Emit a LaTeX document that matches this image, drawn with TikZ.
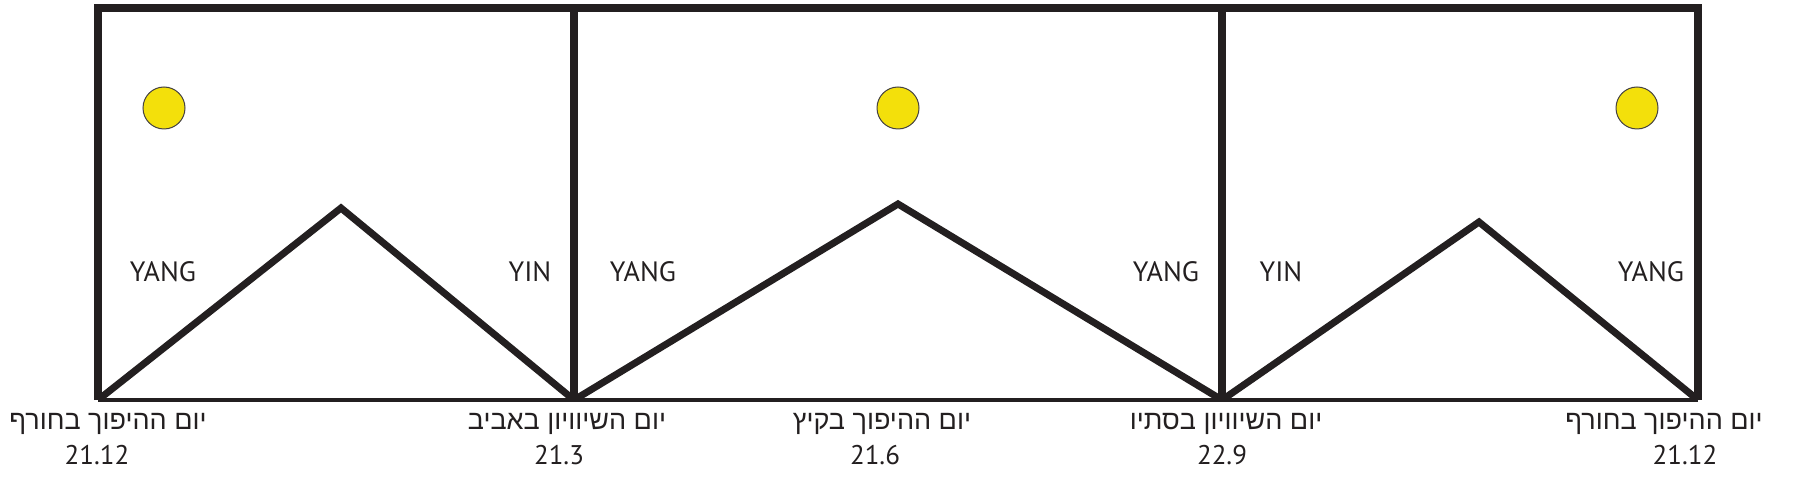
\documentclass[tikz,border=0pt]{standalone}
\usepackage{fontspec}
\setmainfont{PT Sans}
\newfontfamily\hebfont[Script=Hebrew]{Liberation Sans}
\TeXXeTstate=1
\definecolor{inkcol}{HTML}{231F20}
\definecolor{suncol}{HTML}{F3E00B}
\begin{document}
\begin{tikzpicture}[x=1pt,y=-1pt,
        boxline/.style={draw=inkcol,line width=7.5pt,line join=miter},
        groundline/.style={draw=inkcol,line width=3.5pt},
        ridge/.style={draw=inkcol,line width=7pt,line join=miter},
        sun/.style={circle,fill=suncol,draw=inkcol!85,line width=1pt,minimum size=42pt,inner sep=0pt},
        season/.style={font=\fontsize{28}{30}\selectfont,text=inkcol,inner sep=0pt,anchor=base},
        dayname/.style={font=\hebfont\fontsize{27}{29}\selectfont,text=inkcol,inner sep=0pt,anchor=base},
        datelabel/.style={font=\fontsize{27}{29}\selectfont,text=inkcol,inner sep=0pt,anchor=base}] %Ciclo anual yin-yang
            \useasboundingbox (0,0) rectangle (1800,478);

            \coordinate (A) at (98,400);
            \coordinate (B) at (574,400);
            \coordinate (C) at (1222,400);
            \coordinate (D) at (1698,400);

            \coordinate (E) at (98,8);
            \coordinate (F) at (574,8);
            \coordinate (G) at (1222,8);
            \coordinate (H) at (1698,8);

            \coordinate (P1) at (341,208);
            \coordinate (P2) at (898,204);
            \coordinate (P3) at (1479,222);

            \draw[groundline] (A) -- (D);
            \draw[boxline] (A) -- (E) -- (H) -- (D);
            \draw[boxline] (B) -- (F);
            \draw[boxline] (C) -- (G);

            \begin{scope}
                \clip (95,5) rectangle (1701,401);
                \draw[ridge] (A) -- (P1) -- (B);
                \draw[ridge] (B) -- (P2) -- (C);
                \draw[ridge] (C) -- (P3) -- (D);
            \end{scope}

            \node[sun] (sun1) at (164,108) {};
            \node[sun] (sun2) at (898,108) {};
            \node[sun] (sun3) at (1637,108) {};

            \node[season] (yang1) at (163,282) {YANG};
            \node[season] (yin1) at (530,282) {YIN};
            \node[season] (yang2) at (643,282) {YANG};
            \node[season] (yang3) at (1166,282) {YANG};
            \node[season] (yin2) at (1281,282) {YIN};
            \node[season] (yang4) at (1651,282) {YANG};

            \node[dayname] (day1) at (108,429) {\beginR יום ההיפוך בחורף\endR};
            \node[dayname] (day2) at (567,429) {\beginR יום השיוויון באביב\endR};
            \node[dayname] (day3) at (882,429) {\beginR יום ההיפוך בקיץ\endR};
            \node[dayname] (day4) at (1226,429) {\beginR יום השיוויון בסתיו\endR};
            \node[dayname] (day5) at (1664,429) {\beginR יום ההיפוך בחורף\endR};

            \node[datelabel] (date1) at (97,464) {21.12};
            \node[datelabel] (date2) at (559,464) {21.3};
            \node[datelabel] (date3) at (875,464) {21.6};
            \node[datelabel] (date4) at (1222,464) {22.9};
            \node[datelabel] (date5) at (1685,464) {21.12};
        \end{tikzpicture}
\end{document}
